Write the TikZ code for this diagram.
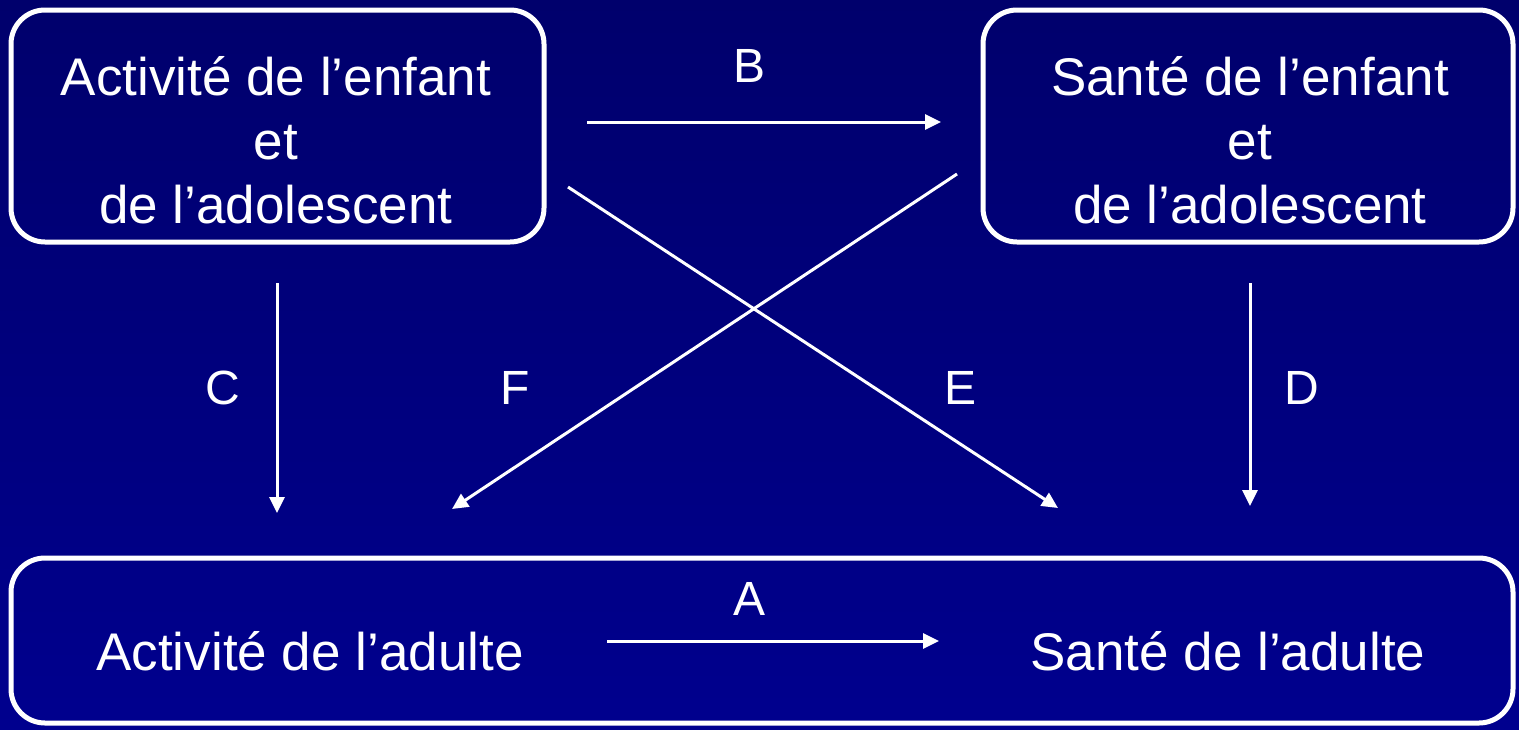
\documentclass[tikz,border=0pt]{standalone}
\usepackage{fontspec}
\setmainfont{Liberation Sans}
\usetikzlibrary{arrows.meta}
\definecolor{bgtop}{RGB}{0,0,108}
\definecolor{bgbot}{RGB}{0,0,142}
\begin{document}
\begin{tikzpicture}[x=1pt,y=-1pt,
  panel/.style={draw=white,line width=5pt,rounded corners=34pt},
  label/.style={text=white,font=\fontsize{53}{64}\selectfont,align=center,inner sep=0pt},
  letter/.style={text=white,font=\fontsize{48}{56}\selectfont,inner sep=0pt},
  link/.style={draw=white,line width=3pt,-{Triangle[length=16pt,width=15pt]}}]
  % background
  \shade[top color=bgtop,bottom color=bgbot] (0,0) rectangle (1519,729);
  \useasboundingbox (0,0) rectangle (1519,729);
  % panels
  \draw[panel] (11,10) rectangle (544,242);
  \draw[panel] (983,10) rectangle (1513,242);
  \draw[panel] (11,558) rectangle (1513,723);
  % panel texts
  \node[label] (ce) at (276,140) {Activité de l’enfant\\et\\de l’adolescent};
  \node[label] (cs) at (1250,140) {Santé de l’enfant\\et\\de l’adolescent};
  \node[label] (aa) at (310,651) {Activité de l’adulte};
  \node[label] (as) at (1228,651) {Santé de l’adulte};
  % arrow end points
  \coordinate (b1) at (587,122);  \coordinate (b2) at (941,122);
  \coordinate (a1) at (607,641);  \coordinate (a2) at (939,641);
  \coordinate (c1) at (277,283);  \coordinate (c2) at (277,513);
  \coordinate (d1) at (1250,283); \coordinate (d2) at (1250,506);
  \coordinate (e1) at (568,187);  \coordinate (e2) at (1058,508);
  \coordinate (f1) at (957,174);  \coordinate (f2) at (452,509);
  % arrows
  \draw[link] (b1) -- (b2);
  \draw[link] (a1) -- (a2);
  \draw[link] (c1) -- (c2);
  \draw[link] (d1) -- (d2);
  \draw[link] (e1) -- (e2);
  \draw[link] (f1) -- (f2);
  % arrow letters
  \node[letter] (lb) at (750,66) {B};
  \node[letter] (la) at (750,599) {A};
  \node[letter] (lc) at (223,388) {C};
  \node[letter] (lf) at (515,388) {F};
  \node[letter] (le) at (960,388) {E};
  \node[letter] (ld) at (1302,388) {D};
\end{tikzpicture}
\end{document}
